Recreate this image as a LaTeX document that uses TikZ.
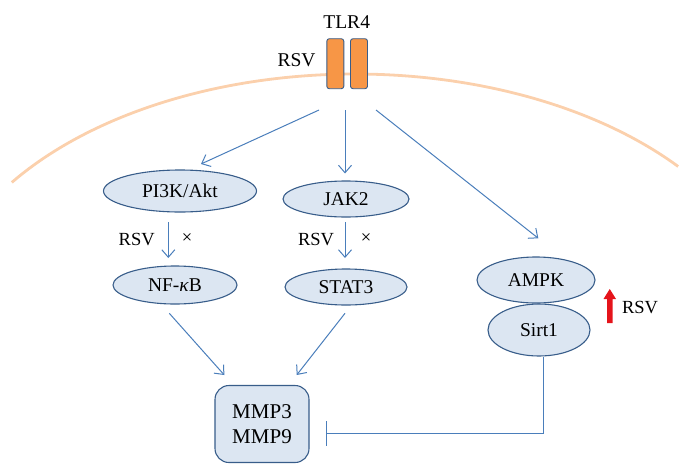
\documentclass[tikz,border=0pt]{standalone}
\usepackage{fontspec}
\setmainfont{Liberation Serif}
\usetikzlibrary{arrows.meta,shapes.geometric}
\definecolor{fillb}{HTML}{DCE6F2}
\definecolor{edgeb}{HTML}{385D8A}
\definecolor{lineb}{HTML}{4A7EBB}
\definecolor{memb}{HTML}{FBD0AC}
\definecolor{orng}{HTML}{F79646}
\definecolor{redar}{HTML}{E5141B}
\begin{document}
\begin{tikzpicture}[x=1pt,y=-1pt,
  ell/.style={ellipse,draw=edgeb,fill=fillb,line width=1.1pt,inner sep=0pt,font=\fontsize{19.5}{21}\selectfont},
  bigell/.style={ell,font=\fontsize{19.5}{22}\selectfont},
  arr/.style={draw=lineb,line width=1pt,-{Straight Barb[length=7.5pt,width=13pt,line width=1pt]}},
  inh/.style={color=lineb,line width=1.3pt},
  lbl/.style={font=\fontsize{18.5}{20}\selectfont,inner sep=0pt},
  bar/.style={draw=edgeb,fill=orng,line width=0.9pt,rounded corners=2.5pt,minimum width=17pt,minimum height=50pt,inner sep=0pt}]
\useasboundingbox (0,0) rectangle (679,466);
% membrane
\draw[memb,line width=2.8pt] plot[domain=215.2:320.3,samples=80,smooth] ({355+420*cos(\x)},{330+256*sin(\x)});
% TLR4
\node[bar] (b1) at (335.3,63.7) {};
\node[bar] (b2) at (359,63.7) {};
\node[lbl,font=\fontsize{19.5}{22}\selectfont] (tlr) at (346.7,22) {TLR4};
\node[lbl,font=\fontsize{19.5}{22}\selectfont] (rsv0) at (296.5,60) {RSV};
% nodes
\node[ell,minimum width=153pt,minimum height=42pt] (pik) at (180,191) {PI3K/Akt};
\node[ell,minimum width=124pt,minimum height=38pt] (nfkb) at (175,285) {NF-\textit{κ}B};
\node[ell,minimum width=126pt,minimum height=36pt] (jak) at (346,199) {JAK2};
\node[ell,minimum width=122pt,minimum height=36pt] (stat) at (346,287) {STAT3};
\node[bigell,minimum width=118pt,minimum height=46pt] (ampk) at (536,280) {AMPK};
\node[bigell,minimum width=102pt,minimum height=52pt] (sirt) at (539,330) {Sirt1};
\node[draw=edgeb,fill=fillb,line width=1.1pt,rounded corners=14pt,minimum width=94pt,minimum height=77pt,inner sep=0pt,align=center,font=\fontsize{21}{25}\selectfont] (mmp) at (262,424) {MMP3\\MMP9};
% start / end coordinates
\coordinate (t1) at (319,110);
\coordinate (t2) at (345,110);
\coordinate (t3) at (376,110);
\coordinate (h1) at (201,164);
\coordinate (h2) at (345,173.5);
\coordinate (h3) at (538.3,238.3);
\coordinate (p1) at (168.3,222);
\coordinate (p2) at (168.3,258);
\coordinate (j1) at (345,222);
\coordinate (j2) at (345,258);
\coordinate (n1) at (169.3,313.3);
\coordinate (n2) at (224.3,375);
\coordinate (s1) at (345,313.3);
\coordinate (s2) at (296.7,375);
\coordinate (c1) at (543.5,433.5);
\coordinate (c2) at (326.7,433.5);
\coordinate (cb1) at (326.7,421);
\coordinate (cb2) at (326.7,446);
\draw[arr] (t1) -- (h1);
\draw[arr] (t2) -- (h2);
\draw[arr] (t3) -- (h3);
\draw[arr] (p1) -- (p2);
\draw[arr] (j1) -- (j2);
\draw[arr] (n1) -- (n2);
\draw[arr] (s1) -- (s2);
\draw[inh] (sirt.south -| c1) -- (c1) -- (c2);
\draw[inh] (cb1) -- (cb2);
% labels
\node[lbl] (r1) at (136.7,240) {RSV};
\node[lbl] (x1) at (187,239) {×};
\node[lbl] (r2) at (316,240) {RSV};
\node[lbl] (x2) at (366,239) {×};
\node[lbl] (r3) at (640,308) {RSV};
% red up arrow
\fill[redar] (607,323) -- (612.5,323) -- (612.5,299) -- (616,299) -- (609.75,289) -- (603.5,299) -- (607,299) -- cycle;
\end{tikzpicture}
\end{document}
